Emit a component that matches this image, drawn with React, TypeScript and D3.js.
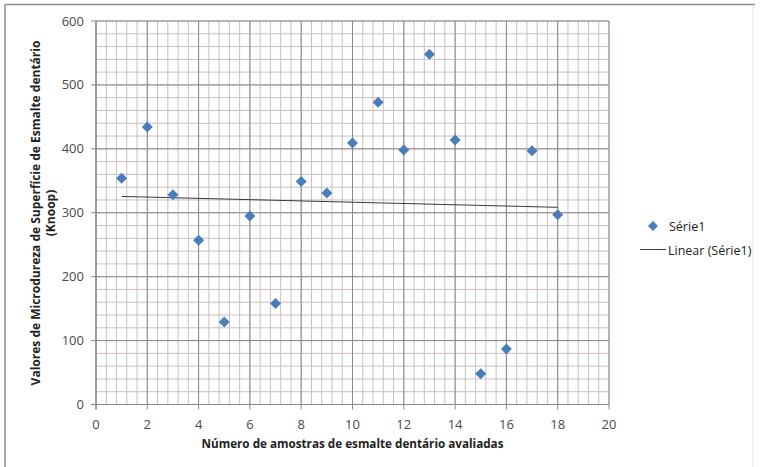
import React from "react";
import * as d3 from "d3";

const samples = [1, 2, 3, 4, 5, 6, 7, 8, 9, 10, 11, 12, 13, 14, 15, 16, 17, 18];
const hardness = [354, 434, 328, 257, 129, 295, 158, 349, 331, 409, 473, 398, 548, 414, 48, 87, 397, 297];
const xTicks = [0, 2, 4, 6, 8, 10, 12, 14, 16, 18, 20];
const yTicks = [0, 100, 200, 300, 400, 500, 600];
const seriesName = "Série1";
const trendName = "Linear (Série1)";
const xTitle = "Número de amostras de esmalte dentário avaliadas";
const yTitle1 = "Valores de Microdureza de Superfície de Esmalte dentário";
const yTitle2 = "(Knoop)";

const W = 761, H = 467;
const L = 96, R = 609, T = 21, B = 404.5;

export default function App() {
  const x = d3.scaleLinear().domain([0, 20]).range([L, R]);
  const y = d3.scaleLinear().domain([0, 600]).range([B, T]);

  const xMinor = d3.range(0, 20.001, 0.4);
  const yMinor = d3.range(0, 600.001, 20);

  // linear regression
  const mx = d3.mean(samples)!;
  const my = d3.mean(hardness)!;
  let sxy = 0, sxx = 0;
  samples.forEach((s, i) => { sxy += (s - mx) * (hardness[i] - my); sxx += (s - mx) ** 2; });
  const slope = sxy / sxx;
  const icpt = my - slope * mx;
  const x0 = d3.min(samples)!, x1 = d3.max(samples)!;
  const line = d3.line<number>().x(d => x(d)).y(d => y(icpt + slope * d));

  const font = "'Open Sans', 'DejaVu Sans', sans-serif";
  const diamond = (cx: number, cy: number, r: number) =>
    `M${cx},${cy - r}L${cx + r},${cy}L${cx},${cy + r}L${cx - r},${cy}Z`;

  return (
    <svg width={W} height={H} style={{ position: "absolute", left: 0, top: 0, background: "#fff" }}>
      <rect x={0} y={0} width={W} height={H} fill="#fff" />
      {/* outer frame */}
      <line x1={5} y1={4.5} x2={755} y2={4.5} stroke="#8f8a8a" strokeWidth={1.5} />
      <line x1={5} y1={4.5} x2={5} y2={H} stroke="#8f8a8a" strokeWidth={1.5} />
      <line x1={753} y1={5} x2={753} y2={H} stroke="#e6e6e6" strokeWidth={1} />

      {/* minor grid */}
      {xMinor.map((v, i) => (
        <line key={"xm" + i} x1={x(v)} x2={x(v)} y1={T} y2={B} stroke="#c9bfbf" strokeWidth={1} />
      ))}
      {yMinor.map((v, i) => (
        <line key={"ym" + i} x1={L} x2={R} y1={y(v)} y2={y(v)} stroke="#c9bfbf" strokeWidth={1} />
      ))}
      {/* major grid */}
      {xTicks.map((v, i) => (
        <line key={"xM" + i} x1={x(v)} x2={x(v)} y1={T} y2={B} stroke="#928686" strokeWidth={1} />
      ))}
      {yTicks.map((v, i) => (
        <line key={"yM" + i} x1={L} x2={R} y1={y(v)} y2={y(v)} stroke="#928686" strokeWidth={1} />
      ))}

      {/* axes */}
      <line x1={L - 5} x2={R} y1={B} y2={B} stroke="#8a8a8a" strokeWidth={1.2} />
      <line x1={L} x2={L} y1={T} y2={B + 5} stroke="#8a8a8a" strokeWidth={1.2} />
      {xTicks.map((v, i) => (
        <line key={"xt" + i} x1={x(v)} x2={x(v)} y1={B} y2={B + 5} stroke="#8a8a8a" />
      ))}
      {yTicks.map((v, i) => (
        <line key={"yt" + i} x1={L - 5} x2={L} y1={y(v)} y2={y(v)} stroke="#8a8a8a" />
      ))}

      {/* tick labels */}
      {xTicks.map((v, i) => (
        <text key={"xl" + i} x={x(v)} y={B + 24} textAnchor="middle" fontFamily={font} fontSize={13} fill="#4a4a4a">{v}</text>
      ))}
      {yTicks.map((v, i) => (
        <text key={"yl" + i} x={L - 12} y={y(v) + 4.5} textAnchor="end" fontFamily={font} fontSize={13} fill="#4a4a4a">{v}</text>
      ))}

      {/* axis titles */}
      <text x={(L + R) / 2} y={448} textAnchor="middle" fontFamily={font} fontSize={11.7} fontWeight="bold" fill="#222">{xTitle}</text>
      <g transform={`translate(40, 213) rotate(-90)`}>
        <text x={0} y={0} textAnchor="middle" fontFamily={font} fontSize={12} fontWeight="bold" fill="#222">{yTitle1}</text>
        <text x={0} y={15} textAnchor="middle" fontFamily={font} fontSize={12} fontWeight="bold" fill="#222">{yTitle2}</text>
      </g>

      {/* trend line */}
      <path d={line([x0, x1]) || ""} fill="none" stroke="#3a3a3a" strokeWidth={1} />

      {/* points */}
      {samples.map((s, i) => (
        <path key={"p" + i} d={diamond(x(s), y(hardness[i]), 5.5)} fill="#4a7ebb" />
      ))}

      {/* legend */}
      <path d={diamond(653, 226, 5)} fill="#4a7ebb" />
      <text x={669} y={230.5} fontFamily={font} fontSize={12.5} fill="#222">{seriesName}</text>
      <line x1={640} x2={666} y1={249.5} y2={249.5} stroke="#3a3a3a" strokeWidth={1} />
      <text x={668} y={254.5} fontFamily={font} fontSize={12.5} fill="#222">{trendName}</text>
    </svg>
  );
}
